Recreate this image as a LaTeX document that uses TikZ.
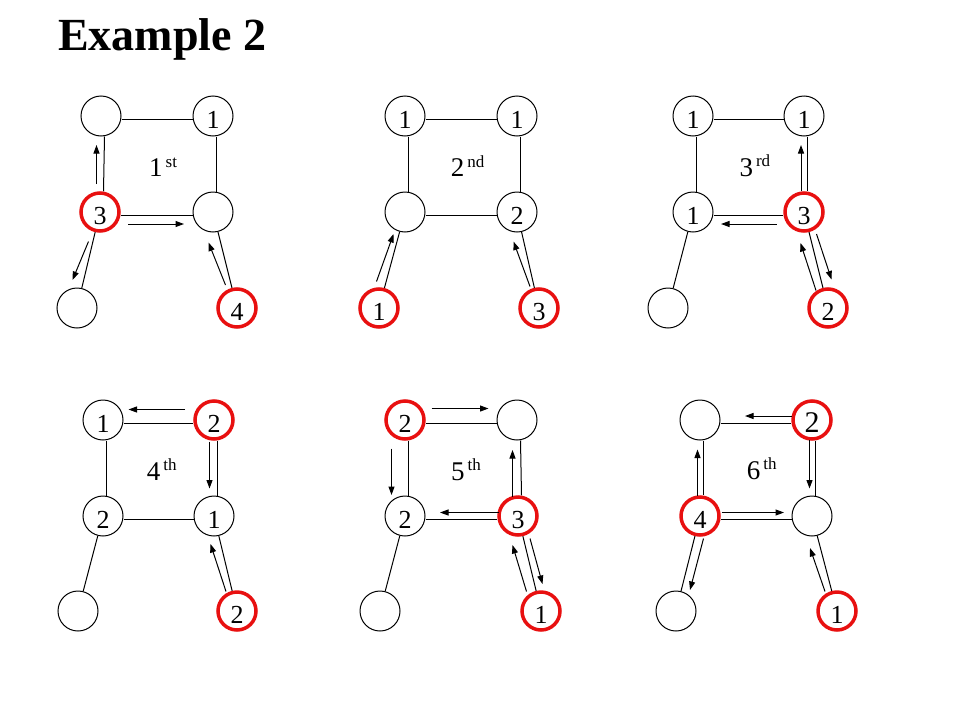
\documentclass[tikz,border=0pt]{standalone}
\usepackage{fontspec}
\setmainfont{Liberation Serif}
\usetikzlibrary{calc,arrows.meta}
\definecolor{myred}{RGB}{232,16,16}
\newcommand\ordsup[1]{\raisebox{9.5pt}{\fontsize{17}{17}\selectfont #1}}
\begin{document}
\begin{tikzpicture}[x=1pt,y=-1pt,
  v/.style={circle,draw=black,line width=1pt,minimum size=40pt,inner sep=0pt,
            font=\fontsize{26}{26}\selectfont,text height=24pt,text depth=0pt},
  r/.style={v,draw=myred,line width=3.5pt,minimum size=38pt},
  edge/.style={line width=1pt,black},
  arr/.style={line width=1pt,-{Triangle[length=8.5pt,width=6pt]}},
  lab/.style={anchor=base west,inner sep=0pt,font=\fontsize{27}{27}\selectfont}]
\fill[white] (0,0) rectangle (960,720);
\useasboundingbox (0,0) rectangle (960,720);
\node[anchor=base west,inner sep=0pt,font=\bfseries\fontsize{46}{46}\selectfont] (title) at (58,50) {Example 2};
% Diagram 1
\node[v] (d1-tl) at (101,116) {};
\node[v] (d1-tr) at (213,116) {1};
\node[r] (d1-ml) at (100,212) {3};
\node[v] (d1-mr) at (213,212) {};
\node[v] (d1-bl) at (77,308) {};
\node[r] (d1-br) at (237,308) {4};
\node[lab] (l1) at (149,176.7) {1\kern3pt\ordsup{st}};
% Diagram 2
\node[v] (d2-tl) at (405,116) {1};
\node[v] (d2-tr) at (517,116) {1};
\node[v] (d2-ml) at (405,212) {};
\node[v] (d2-mr) at (517,212) {2};
\node[r] (d2-bl) at (379,308) {1};
\node[r] (d2-br) at (539,308) {3};
\node[lab] (l2) at (450.7,176.7) {2\kern3pt\ordsup{nd}};
% Diagram 3
\node[v] (d3-tl) at (693,116) {1};
\node[v] (d3-tr) at (804,116) {1};
\node[v] (d3-ml) at (693,212) {1};
\node[r] (d3-mr) at (804,212) {3};
\node[v] (d3-bl) at (668,308) {};
\node[r] (d3-br) at (828,308) {2};
\node[lab] (l3) at (739.3,176) {3\kern3pt\ordsup{rd}};
% Diagram 4
\node[v] (d4-tl) at (103,420) {1};
\node[r] (d4-tr) at (214,420) {2};
\node[v] (d4-ml) at (103,516) {2};
\node[v] (d4-mr) at (214,516) {1};
\node[v] (d4-bl) at (78,611) {};
\node[r] (d4-br) at (237,611) {2};
\node[lab] (l4) at (146.7,480) {4\kern3pt\ordsup{th}};
% Diagram 5
\node[r] (d5-tl) at (405,420) {2};
\node[v] (d5-tr) at (517,420) {};
\node[v] (d5-ml) at (405,516) {2};
\node[r] (d5-mr) at (518,516) {3};
\node[v] (d5-bl) at (380,611) {};
\node[r] (d5-br) at (541,611) {1};
\node[lab] (l5) at (451,480) {5\kern3pt\ordsup{th}};
% Diagram 6
\node[v] (d6-tl) at (700,420) {};
\node[r,font=\fontsize{30}{30}\selectfont] (d6-tr) at (812,420) {2};
\node[r] (d6-ml) at (700,516) {4};
\node[v] (d6-mr) at (812,516) {};
\node[v] (d6-bl) at (676,611) {};
\node[r] (d6-br) at (837,611) {1};
\node[lab] (l6) at (746.7,479.3) {6\kern3pt\ordsup{th}};
% edges
\foreach \d in {d1,d2,d3,d4,d5,d6}{
  \draw[edge] ($(\d-tl.east)+(0,3.5)$) -- ($(\d-tr.west)+(0,3.5)$);
  \draw[edge] ($(\d-tl.south)+(3.5,0)$) -- ($(\d-ml.north)+(3.5,0)$);
  \draw[edge] ($(\d-tr.south)+(3.5,0)$) -- ($(\d-mr.north)+(3.5,0)$);
  \draw[edge] ($(\d-ml.east)+(0,3.5)$) -- ($(\d-mr.west)+(0,3.5)$);
  \draw[edge] (\d-ml) -- (\d-bl);
  \draw[edge] (\d-mr) -- (\d-br);
}
% arrows D1
\draw[arr] ($(d1-ml)+(-3.5,-28)$) -- ($(d1-tl)+(-4.5,29)$);
\draw[arr] ($(d1-ml)+(28,12)$) -- ($(d1-mr)+(-29,12)$);
\draw[arr] ($(d1-ml)+(-11.5,29.5)$) -- ($(d1-bl)+(-4.5,-28)$);
\draw[arr] ($(d1-br)+(-11.5,-23)$) -- ($(d1-mr)+(-4.5,30.5)$);
% arrows D2
\draw[arr] ($(d2-bl)+(-2.5,-26.5)$) -- ($(d2-ml)+(-11.5,22)$);
\draw[arr] ($(d2-br)+(-9,-21.5)$) -- ($(d2-mr)+(-3.5,29.5)$);
% arrows D3
\draw[arr] ($(d3-mr)+(-3,-21)$) -- ($(d3-tr)+(-3,29)$);
\draw[arr] ($(d3-mr)+(-27.5,12)$) -- ($(d3-ml)+(28,12)$);
\draw[arr] ($(d3-mr)+(12.5,22)$) -- ($(d3-br)+(3.5,-28.5)$);
\draw[arr] ($(d3-br)+(-12,-17.5)$) -- ($(d3-mr)+(-3.5,31)$);
% arrows D4
\draw[arr] ($(d4-tr)+(-29,-10.5)$) -- ($(d4-tl)+(25.5,-10.5)$);
\draw[arr] ($(d4-tr)+(-4.5,21.5)$) -- ($(d4-mr)+(-4.5,-27.5)$);
\draw[arr] ($(d4-br)+(-11,-19.5)$) -- ($(d4-mr)+(-3.5,28)$);
% arrows D5
\draw[arr] ($(d5-tl)+(26.5,-11.5)$) -- ($(d5-tr)+(-28.5,-11.5)$);
\draw[arr] ($(d5-tl)+(-13.5,28.5)$) -- ($(d5-ml)+(-13.5,-21)$);
\draw[arr] ($(d5-mr)+(-5.5,-19.5)$) -- ($(d5-tr)+(-4.5,30)$);
\draw[arr] ($(d5-mr)+(-19.5,-3.5)$) -- ($(d5-ml)+(35,-3.5)$);
\draw[arr] ($(d5-mr)+(12,22.5)$) -- ($(d5-br)+(1.5,-27)$);
\draw[arr] ($(d5-br)+(-14.5,-19.5)$) -- ($(d5-mr)+(-5.5,29)$);
% arrows D6
\draw[arr] ($(d6-tr)+(-20.5,-4)$) -- ($(d6-tl)+(45,-4)$);
\draw[arr] ($(d6-tr)+(-2.5,20)$) -- ($(d6-mr)+(-2.5,-27.5)$);
\draw[arr] ($(d6-ml)+(-2.5,-20)$) -- ($(d6-tl)+(-2.5,29.5)$);
\draw[arr] ($(d6-ml)+(21.5,-3.5)$) -- ($(d6-mr)+(-28,-3.5)$);
\draw[arr] ($(d6-ml)+(3.5,22.5)$) -- ($(d6-bl)+(14,-21)$);
\draw[arr] ($(d6-br)+(-12,-19.5)$) -- ($(d6-mr)+(-2,32)$);
\end{tikzpicture}
\end{document}
